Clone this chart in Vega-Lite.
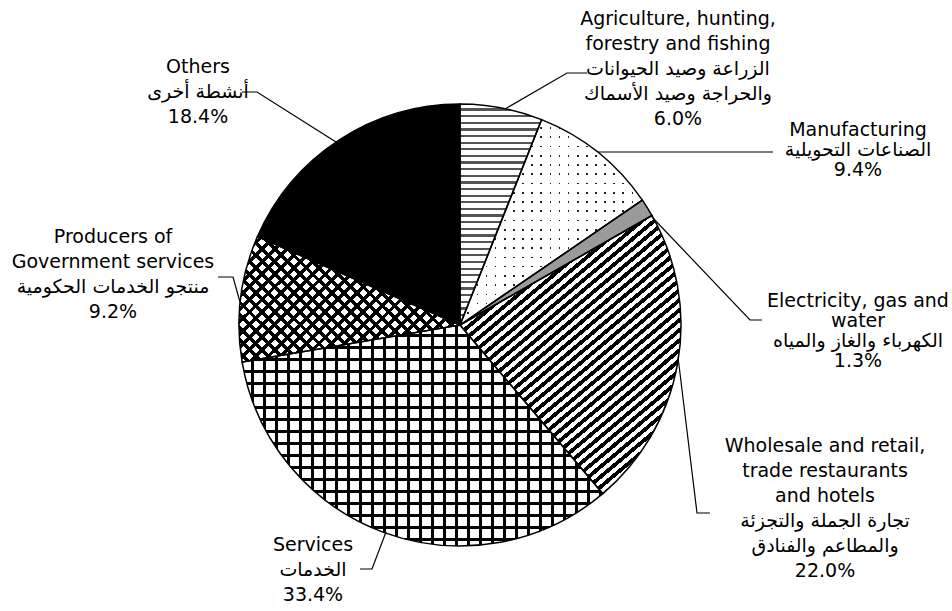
{
"$schema":"https://vega.github.io/schema/vega-lite/v6.json",
"width":920,"height":572,
"autosize":{"type":"none"},
"padding":{"left":0,"top":39,"right":32,"bottom":0},
"background":"#ffffff",
"config":{"view":{"stroke":null}},
"layer":[
{
"data":{"values":[
{"sector":"Agriculture","value":6.0},
{"sector":"Manufacturing","value":9.4},
{"sector":"Electricity","value":1.3},
{"sector":"Wholesale","value":22.0},
{"sector":"Services","value":33.4},
{"sector":"Producers","value":9.2},
{"sector":"Others","value":18.4}
]},
"transform":[
{"window":[{"op":"sum","field":"value","as":"end"}],"frame":[null,0]},
{"calculate":"datum.end - datum.value","as":"start"}
],
"encoding":{
"theta":{"field":"start","type":"quantitative","scale":{"domain":[0,99.7]}},
"theta2":{"field":"end"}
},
"layer":[
{"transform":[{"filter":"datum.sector === 'Agriculture'"}],
"mark":{"type":"arc","outerRadius":221,"fill":{"gradient":"linear","x1":0,"y1":0,"x2":0,"y2":1,"stops":[
{"offset":0,"color":"#fff"},{"offset":0.02,"color":"#fff"},{"offset":0.02,"color":"#555"},{"offset":0.03,"color":"#555"},
{"offset":0.03,"color":"#fff"},{"offset":0.05,"color":"#fff"},{"offset":0.05,"color":"#555"},{"offset":0.06,"color":"#555"},
{"offset":0.06,"color":"#fff"},{"offset":0.08,"color":"#fff"},{"offset":0.08,"color":"#555"},{"offset":0.09,"color":"#555"},
{"offset":0.09,"color":"#fff"},{"offset":0.11,"color":"#fff"},{"offset":0.11,"color":"#555"},{"offset":0.12,"color":"#555"},
{"offset":0.12,"color":"#fff"},{"offset":0.14,"color":"#fff"},{"offset":0.14,"color":"#555"},{"offset":0.15,"color":"#555"},
{"offset":0.15,"color":"#fff"},{"offset":0.17,"color":"#fff"},{"offset":0.17,"color":"#555"},{"offset":0.18,"color":"#555"},
{"offset":0.18,"color":"#fff"},{"offset":0.2,"color":"#fff"},{"offset":0.2,"color":"#555"},{"offset":0.21,"color":"#555"},
{"offset":0.21,"color":"#fff"},{"offset":0.23,"color":"#fff"},{"offset":0.23,"color":"#555"},{"offset":0.24,"color":"#555"},
{"offset":0.24,"color":"#fff"},{"offset":0.26,"color":"#fff"},{"offset":0.26,"color":"#555"},{"offset":0.27,"color":"#555"},
{"offset":0.27,"color":"#fff"},{"offset":0.29,"color":"#fff"},{"offset":0.29,"color":"#555"},{"offset":0.3,"color":"#555"},
{"offset":0.3,"color":"#fff"},{"offset":0.32,"color":"#fff"},{"offset":0.32,"color":"#555"},{"offset":0.33,"color":"#555"},
{"offset":0.33,"color":"#fff"},{"offset":0.35,"color":"#fff"},{"offset":0.35,"color":"#555"},{"offset":0.36,"color":"#555"},
{"offset":0.36,"color":"#fff"},{"offset":0.38,"color":"#fff"},{"offset":0.38,"color":"#555"},{"offset":0.39,"color":"#555"},
{"offset":0.39,"color":"#fff"},{"offset":0.41,"color":"#fff"},{"offset":0.41,"color":"#555"},{"offset":0.42,"color":"#555"},
{"offset":0.42,"color":"#fff"},{"offset":0.44,"color":"#fff"},{"offset":0.44,"color":"#555"},{"offset":0.45,"color":"#555"},
{"offset":0.45,"color":"#fff"},{"offset":0.47,"color":"#fff"},{"offset":0.47,"color":"#555"},{"offset":0.48,"color":"#555"},
{"offset":0.48,"color":"#fff"},{"offset":0.5,"color":"#fff"},{"offset":0.5,"color":"#555"},{"offset":0.51,"color":"#555"},
{"offset":0.51,"color":"#fff"},{"offset":0.53,"color":"#fff"},{"offset":0.53,"color":"#555"},{"offset":0.54,"color":"#555"},
{"offset":0.54,"color":"#fff"},{"offset":0.56,"color":"#fff"},{"offset":0.56,"color":"#555"},{"offset":0.57,"color":"#555"},
{"offset":0.57,"color":"#fff"},{"offset":0.59,"color":"#fff"},{"offset":0.59,"color":"#555"},{"offset":0.6,"color":"#555"},
{"offset":0.6,"color":"#fff"},{"offset":0.62,"color":"#fff"},{"offset":0.62,"color":"#555"},{"offset":0.63,"color":"#555"},
{"offset":0.63,"color":"#fff"},{"offset":0.65,"color":"#fff"},{"offset":0.65,"color":"#555"},{"offset":0.66,"color":"#555"},
{"offset":0.66,"color":"#fff"},{"offset":0.68,"color":"#fff"},{"offset":0.68,"color":"#555"},{"offset":0.69,"color":"#555"},
{"offset":0.69,"color":"#fff"},{"offset":0.71,"color":"#fff"},{"offset":0.71,"color":"#555"},{"offset":0.72,"color":"#555"},
{"offset":0.72,"color":"#fff"},{"offset":0.74,"color":"#fff"},{"offset":0.74,"color":"#555"},{"offset":0.75,"color":"#555"},
{"offset":0.75,"color":"#fff"},{"offset":0.77,"color":"#fff"},{"offset":0.77,"color":"#555"},{"offset":0.78,"color":"#555"},
{"offset":0.78,"color":"#fff"},{"offset":0.8,"color":"#fff"},{"offset":0.8,"color":"#555"},{"offset":0.81,"color":"#555"},
{"offset":0.81,"color":"#fff"},{"offset":0.83,"color":"#fff"},{"offset":0.83,"color":"#555"},{"offset":0.84,"color":"#555"},
{"offset":0.84,"color":"#fff"},{"offset":0.86,"color":"#fff"},{"offset":0.86,"color":"#555"},{"offset":0.87,"color":"#555"},
{"offset":0.87,"color":"#fff"},{"offset":0.89,"color":"#fff"},{"offset":0.89,"color":"#555"},{"offset":0.9,"color":"#555"},
{"offset":0.9,"color":"#fff"},{"offset":0.92,"color":"#fff"},{"offset":0.92,"color":"#555"},{"offset":0.93,"color":"#555"},
{"offset":0.93,"color":"#fff"},{"offset":0.95,"color":"#fff"},{"offset":0.95,"color":"#555"},{"offset":0.96,"color":"#555"},
{"offset":0.96,"color":"#fff"},{"offset":0.98,"color":"#fff"},{"offset":0.98,"color":"#555"},{"offset":0.99,"color":"#555"},
{"offset":0.99,"color":"#fff"}
]}}},
{"transform":[{"filter":"datum.sector === 'Manufacturing'"}],
"mark":{"type":"arc","outerRadius":221,"fill":{"gradient":"linear","x1":0,"y1":0,"x2":1,"y2":0,"stops":[
{"offset":0,"color":"#fff"},{"offset":0.041,"color":"#fff"},{"offset":0.041,"color":"#222"},{"offset":0.05,"color":"#222"},
{"offset":0.05,"color":"#fff"},{"offset":0.091,"color":"#fff"},{"offset":0.091,"color":"#222"},{"offset":0.1,"color":"#222"},
{"offset":0.1,"color":"#fff"},{"offset":0.141,"color":"#fff"},{"offset":0.141,"color":"#222"},{"offset":0.15,"color":"#222"},
{"offset":0.15,"color":"#fff"},{"offset":0.191,"color":"#fff"},{"offset":0.191,"color":"#222"},{"offset":0.2,"color":"#222"},
{"offset":0.2,"color":"#fff"},{"offset":0.241,"color":"#fff"},{"offset":0.241,"color":"#222"},{"offset":0.25,"color":"#222"},
{"offset":0.25,"color":"#fff"},{"offset":0.291,"color":"#fff"},{"offset":0.291,"color":"#222"},{"offset":0.3,"color":"#222"},
{"offset":0.3,"color":"#fff"},{"offset":0.341,"color":"#fff"},{"offset":0.341,"color":"#222"},{"offset":0.35,"color":"#222"},
{"offset":0.35,"color":"#fff"},{"offset":0.391,"color":"#fff"},{"offset":0.391,"color":"#222"},{"offset":0.4,"color":"#222"},
{"offset":0.4,"color":"#fff"},{"offset":0.441,"color":"#fff"},{"offset":0.441,"color":"#222"},{"offset":0.45,"color":"#222"},
{"offset":0.45,"color":"#fff"},{"offset":0.491,"color":"#fff"},{"offset":0.491,"color":"#222"},{"offset":0.5,"color":"#222"},
{"offset":0.5,"color":"#fff"},{"offset":0.541,"color":"#fff"},{"offset":0.541,"color":"#222"},{"offset":0.55,"color":"#222"},
{"offset":0.55,"color":"#fff"},{"offset":0.591,"color":"#fff"},{"offset":0.591,"color":"#222"},{"offset":0.6,"color":"#222"},
{"offset":0.6,"color":"#fff"},{"offset":0.641,"color":"#fff"},{"offset":0.641,"color":"#222"},{"offset":0.65,"color":"#222"},
{"offset":0.65,"color":"#fff"},{"offset":0.691,"color":"#fff"},{"offset":0.691,"color":"#222"},{"offset":0.7,"color":"#222"},
{"offset":0.7,"color":"#fff"},{"offset":0.741,"color":"#fff"},{"offset":0.741,"color":"#222"},{"offset":0.75,"color":"#222"},
{"offset":0.75,"color":"#fff"},{"offset":0.791,"color":"#fff"},{"offset":0.791,"color":"#222"},{"offset":0.8,"color":"#222"},
{"offset":0.8,"color":"#fff"},{"offset":0.841,"color":"#fff"},{"offset":0.841,"color":"#222"},{"offset":0.85,"color":"#222"},
{"offset":0.85,"color":"#fff"},{"offset":0.891,"color":"#fff"},{"offset":0.891,"color":"#222"},{"offset":0.9,"color":"#222"},
{"offset":0.9,"color":"#fff"},{"offset":0.941,"color":"#fff"},{"offset":0.941,"color":"#222"},{"offset":0.95,"color":"#222"},
{"offset":0.95,"color":"#fff"},{"offset":0.991,"color":"#fff"},{"offset":0.991,"color":"#222"},{"offset":1,"color":"#222"}
]}}},
{"transform":[{"filter":"datum.sector === 'Manufacturing'"}],
"mark":{"type":"arc","outerRadius":221,"fill":{"gradient":"linear","x1":0,"y1":0,"x2":0,"y2":1,"stops":[
{"offset":0,"color":"#fff"},{"offset":0.037,"color":"#fff"},{"offset":0.037,"color":"rgba(255,255,255,0)"},{"offset":0.045,"color":"rgba(255,255,255,0)"},
{"offset":0.045,"color":"#fff"},{"offset":0.082,"color":"#fff"},{"offset":0.082,"color":"rgba(255,255,255,0)"},{"offset":0.09,"color":"rgba(255,255,255,0)"},
{"offset":0.09,"color":"#fff"},{"offset":0.127,"color":"#fff"},{"offset":0.127,"color":"rgba(255,255,255,0)"},{"offset":0.135,"color":"rgba(255,255,255,0)"},
{"offset":0.135,"color":"#fff"},{"offset":0.172,"color":"#fff"},{"offset":0.172,"color":"rgba(255,255,255,0)"},{"offset":0.18,"color":"rgba(255,255,255,0)"},
{"offset":0.18,"color":"#fff"},{"offset":0.217,"color":"#fff"},{"offset":0.217,"color":"rgba(255,255,255,0)"},{"offset":0.225,"color":"rgba(255,255,255,0)"},
{"offset":0.225,"color":"#fff"},{"offset":0.262,"color":"#fff"},{"offset":0.262,"color":"rgba(255,255,255,0)"},{"offset":0.27,"color":"rgba(255,255,255,0)"},
{"offset":0.27,"color":"#fff"},{"offset":0.307,"color":"#fff"},{"offset":0.307,"color":"rgba(255,255,255,0)"},{"offset":0.315,"color":"rgba(255,255,255,0)"},
{"offset":0.315,"color":"#fff"},{"offset":0.352,"color":"#fff"},{"offset":0.352,"color":"rgba(255,255,255,0)"},{"offset":0.36,"color":"rgba(255,255,255,0)"},
{"offset":0.36,"color":"#fff"},{"offset":0.397,"color":"#fff"},{"offset":0.397,"color":"rgba(255,255,255,0)"},{"offset":0.405,"color":"rgba(255,255,255,0)"},
{"offset":0.405,"color":"#fff"},{"offset":0.442,"color":"#fff"},{"offset":0.442,"color":"rgba(255,255,255,0)"},{"offset":0.45,"color":"rgba(255,255,255,0)"},
{"offset":0.45,"color":"#fff"},{"offset":0.487,"color":"#fff"},{"offset":0.487,"color":"rgba(255,255,255,0)"},{"offset":0.495,"color":"rgba(255,255,255,0)"},
{"offset":0.495,"color":"#fff"},{"offset":0.532,"color":"#fff"},{"offset":0.532,"color":"rgba(255,255,255,0)"},{"offset":0.54,"color":"rgba(255,255,255,0)"},
{"offset":0.54,"color":"#fff"},{"offset":0.577,"color":"#fff"},{"offset":0.577,"color":"rgba(255,255,255,0)"},{"offset":0.585,"color":"rgba(255,255,255,0)"},
{"offset":0.585,"color":"#fff"},{"offset":0.622,"color":"#fff"},{"offset":0.622,"color":"rgba(255,255,255,0)"},{"offset":0.63,"color":"rgba(255,255,255,0)"},
{"offset":0.63,"color":"#fff"},{"offset":0.667,"color":"#fff"},{"offset":0.667,"color":"rgba(255,255,255,0)"},{"offset":0.675,"color":"rgba(255,255,255,0)"},
{"offset":0.675,"color":"#fff"},{"offset":0.712,"color":"#fff"},{"offset":0.712,"color":"rgba(255,255,255,0)"},{"offset":0.72,"color":"rgba(255,255,255,0)"},
{"offset":0.72,"color":"#fff"},{"offset":0.757,"color":"#fff"},{"offset":0.757,"color":"rgba(255,255,255,0)"},{"offset":0.765,"color":"rgba(255,255,255,0)"},
{"offset":0.765,"color":"#fff"},{"offset":0.802,"color":"#fff"},{"offset":0.802,"color":"rgba(255,255,255,0)"},{"offset":0.81,"color":"rgba(255,255,255,0)"},
{"offset":0.81,"color":"#fff"},{"offset":0.847,"color":"#fff"},{"offset":0.847,"color":"rgba(255,255,255,0)"},{"offset":0.855,"color":"rgba(255,255,255,0)"},
{"offset":0.855,"color":"#fff"},{"offset":0.892,"color":"#fff"},{"offset":0.892,"color":"rgba(255,255,255,0)"},{"offset":0.9,"color":"rgba(255,255,255,0)"},
{"offset":0.9,"color":"#fff"},{"offset":0.937,"color":"#fff"},{"offset":0.937,"color":"rgba(255,255,255,0)"},{"offset":0.945,"color":"rgba(255,255,255,0)"},
{"offset":0.945,"color":"#fff"},{"offset":0.982,"color":"#fff"},{"offset":0.982,"color":"rgba(255,255,255,0)"},{"offset":0.99,"color":"rgba(255,255,255,0)"},
{"offset":0.99,"color":"#fff"}
]}}},
{"transform":[{"filter":"datum.sector === 'Electricity'"}],
"mark":{"type":"arc","outerRadius":221,"fill":"#9a9a9a"}},
{"transform":[{"filter":"datum.sector === 'Wholesale'"}],
"mark":{"type":"arc","outerRadius":221,"fill":{"gradient":"linear","x1":0,"y1":0,"x2":0.667,"y2":1,"stops":[
{"offset":0,"color":"#fff"},{"offset":0.0125,"color":"#fff"},{"offset":0.0125,"color":"#000"},{"offset":0.025,"color":"#000"},
{"offset":0.025,"color":"#fff"},{"offset":0.0375,"color":"#fff"},{"offset":0.0375,"color":"#000"},{"offset":0.05,"color":"#000"},
{"offset":0.05,"color":"#fff"},{"offset":0.0625,"color":"#fff"},{"offset":0.0625,"color":"#000"},{"offset":0.075,"color":"#000"},
{"offset":0.075,"color":"#fff"},{"offset":0.0875,"color":"#fff"},{"offset":0.0875,"color":"#000"},{"offset":0.1,"color":"#000"},
{"offset":0.1,"color":"#fff"},{"offset":0.1125,"color":"#fff"},{"offset":0.1125,"color":"#000"},{"offset":0.125,"color":"#000"},
{"offset":0.125,"color":"#fff"},{"offset":0.1375,"color":"#fff"},{"offset":0.1375,"color":"#000"},{"offset":0.15,"color":"#000"},
{"offset":0.15,"color":"#fff"},{"offset":0.1625,"color":"#fff"},{"offset":0.1625,"color":"#000"},{"offset":0.175,"color":"#000"},
{"offset":0.175,"color":"#fff"},{"offset":0.1875,"color":"#fff"},{"offset":0.1875,"color":"#000"},{"offset":0.2,"color":"#000"},
{"offset":0.2,"color":"#fff"},{"offset":0.2125,"color":"#fff"},{"offset":0.2125,"color":"#000"},{"offset":0.225,"color":"#000"},
{"offset":0.225,"color":"#fff"},{"offset":0.2375,"color":"#fff"},{"offset":0.2375,"color":"#000"},{"offset":0.25,"color":"#000"},
{"offset":0.25,"color":"#fff"},{"offset":0.2625,"color":"#fff"},{"offset":0.2625,"color":"#000"},{"offset":0.275,"color":"#000"},
{"offset":0.275,"color":"#fff"},{"offset":0.2875,"color":"#fff"},{"offset":0.2875,"color":"#000"},{"offset":0.3,"color":"#000"},
{"offset":0.3,"color":"#fff"},{"offset":0.3125,"color":"#fff"},{"offset":0.3125,"color":"#000"},{"offset":0.325,"color":"#000"},
{"offset":0.325,"color":"#fff"},{"offset":0.3375,"color":"#fff"},{"offset":0.3375,"color":"#000"},{"offset":0.35,"color":"#000"},
{"offset":0.35,"color":"#fff"},{"offset":0.3625,"color":"#fff"},{"offset":0.3625,"color":"#000"},{"offset":0.375,"color":"#000"},
{"offset":0.375,"color":"#fff"},{"offset":0.3875,"color":"#fff"},{"offset":0.3875,"color":"#000"},{"offset":0.4,"color":"#000"},
{"offset":0.4,"color":"#fff"},{"offset":0.4125,"color":"#fff"},{"offset":0.4125,"color":"#000"},{"offset":0.425,"color":"#000"},
{"offset":0.425,"color":"#fff"},{"offset":0.4375,"color":"#fff"},{"offset":0.4375,"color":"#000"},{"offset":0.45,"color":"#000"},
{"offset":0.45,"color":"#fff"},{"offset":0.4625,"color":"#fff"},{"offset":0.4625,"color":"#000"},{"offset":0.475,"color":"#000"},
{"offset":0.475,"color":"#fff"},{"offset":0.4875,"color":"#fff"},{"offset":0.4875,"color":"#000"},{"offset":0.5,"color":"#000"},
{"offset":0.5,"color":"#fff"},{"offset":0.5125,"color":"#fff"},{"offset":0.5125,"color":"#000"},{"offset":0.525,"color":"#000"},
{"offset":0.525,"color":"#fff"},{"offset":0.5375,"color":"#fff"},{"offset":0.5375,"color":"#000"},{"offset":0.55,"color":"#000"},
{"offset":0.55,"color":"#fff"},{"offset":0.5625,"color":"#fff"},{"offset":0.5625,"color":"#000"},{"offset":0.575,"color":"#000"},
{"offset":0.575,"color":"#fff"},{"offset":0.5875,"color":"#fff"},{"offset":0.5875,"color":"#000"},{"offset":0.6,"color":"#000"},
{"offset":0.6,"color":"#fff"},{"offset":0.6125,"color":"#fff"},{"offset":0.6125,"color":"#000"},{"offset":0.625,"color":"#000"},
{"offset":0.625,"color":"#fff"},{"offset":0.6375,"color":"#fff"},{"offset":0.6375,"color":"#000"},{"offset":0.65,"color":"#000"},
{"offset":0.65,"color":"#fff"},{"offset":0.6625,"color":"#fff"},{"offset":0.6625,"color":"#000"},{"offset":0.675,"color":"#000"},
{"offset":0.675,"color":"#fff"},{"offset":0.6875,"color":"#fff"},{"offset":0.6875,"color":"#000"},{"offset":0.7,"color":"#000"},
{"offset":0.7,"color":"#fff"},{"offset":0.7125,"color":"#fff"},{"offset":0.7125,"color":"#000"},{"offset":0.725,"color":"#000"},
{"offset":0.725,"color":"#fff"},{"offset":0.7375,"color":"#fff"},{"offset":0.7375,"color":"#000"},{"offset":0.75,"color":"#000"},
{"offset":0.75,"color":"#fff"},{"offset":0.7625,"color":"#fff"},{"offset":0.7625,"color":"#000"},{"offset":0.775,"color":"#000"},
{"offset":0.775,"color":"#fff"},{"offset":0.7875,"color":"#fff"},{"offset":0.7875,"color":"#000"},{"offset":0.8,"color":"#000"},
{"offset":0.8,"color":"#fff"},{"offset":0.8125,"color":"#fff"},{"offset":0.8125,"color":"#000"},{"offset":0.825,"color":"#000"},
{"offset":0.825,"color":"#fff"},{"offset":0.8375,"color":"#fff"},{"offset":0.8375,"color":"#000"},{"offset":0.85,"color":"#000"},
{"offset":0.85,"color":"#fff"},{"offset":0.8625,"color":"#fff"},{"offset":0.8625,"color":"#000"},{"offset":0.875,"color":"#000"},
{"offset":0.875,"color":"#fff"},{"offset":0.8875,"color":"#fff"},{"offset":0.8875,"color":"#000"},{"offset":0.9,"color":"#000"},
{"offset":0.9,"color":"#fff"},{"offset":0.9125,"color":"#fff"},{"offset":0.9125,"color":"#000"},{"offset":0.925,"color":"#000"},
{"offset":0.925,"color":"#fff"},{"offset":0.9375,"color":"#fff"},{"offset":0.9375,"color":"#000"},{"offset":0.95,"color":"#000"},
{"offset":0.95,"color":"#fff"},{"offset":0.9625,"color":"#fff"},{"offset":0.9625,"color":"#000"},{"offset":0.975,"color":"#000"},
{"offset":0.975,"color":"#fff"},{"offset":0.9875,"color":"#fff"},{"offset":0.9875,"color":"#000"},{"offset":1,"color":"#000"}
]}}},
{"transform":[{"filter":"datum.sector === 'Services'"}],
"mark":{"type":"arc","outerRadius":221,"fill":{"gradient":"linear","x1":0,"y1":0,"x2":1.108,"y2":0,"stops":[
{"offset":0,"color":"#fff"},{"offset":0.0225,"color":"#fff"},{"offset":0.0225,"color":"#000"},{"offset":0.03,"color":"#000"},
{"offset":0.03,"color":"#fff"},{"offset":0.0525,"color":"#fff"},{"offset":0.0525,"color":"#000"},{"offset":0.06,"color":"#000"},
{"offset":0.06,"color":"#fff"},{"offset":0.0825,"color":"#fff"},{"offset":0.0825,"color":"#000"},{"offset":0.09,"color":"#000"},
{"offset":0.09,"color":"#fff"},{"offset":0.1125,"color":"#fff"},{"offset":0.1125,"color":"#000"},{"offset":0.12,"color":"#000"},
{"offset":0.12,"color":"#fff"},{"offset":0.1425,"color":"#fff"},{"offset":0.1425,"color":"#000"},{"offset":0.15,"color":"#000"},
{"offset":0.15,"color":"#fff"},{"offset":0.1725,"color":"#fff"},{"offset":0.1725,"color":"#000"},{"offset":0.18,"color":"#000"},
{"offset":0.18,"color":"#fff"},{"offset":0.2025,"color":"#fff"},{"offset":0.2025,"color":"#000"},{"offset":0.21,"color":"#000"},
{"offset":0.21,"color":"#fff"},{"offset":0.2325,"color":"#fff"},{"offset":0.2325,"color":"#000"},{"offset":0.24,"color":"#000"},
{"offset":0.24,"color":"#fff"},{"offset":0.2625,"color":"#fff"},{"offset":0.2625,"color":"#000"},{"offset":0.27,"color":"#000"},
{"offset":0.27,"color":"#fff"},{"offset":0.2925,"color":"#fff"},{"offset":0.2925,"color":"#000"},{"offset":0.3,"color":"#000"},
{"offset":0.3,"color":"#fff"},{"offset":0.3225,"color":"#fff"},{"offset":0.3225,"color":"#000"},{"offset":0.33,"color":"#000"},
{"offset":0.33,"color":"#fff"},{"offset":0.3525,"color":"#fff"},{"offset":0.3525,"color":"#000"},{"offset":0.36,"color":"#000"},
{"offset":0.36,"color":"#fff"},{"offset":0.3825,"color":"#fff"},{"offset":0.3825,"color":"#000"},{"offset":0.39,"color":"#000"},
{"offset":0.39,"color":"#fff"},{"offset":0.4125,"color":"#fff"},{"offset":0.4125,"color":"#000"},{"offset":0.42,"color":"#000"},
{"offset":0.42,"color":"#fff"},{"offset":0.4425,"color":"#fff"},{"offset":0.4425,"color":"#000"},{"offset":0.45,"color":"#000"},
{"offset":0.45,"color":"#fff"},{"offset":0.4725,"color":"#fff"},{"offset":0.4725,"color":"#000"},{"offset":0.48,"color":"#000"},
{"offset":0.48,"color":"#fff"},{"offset":0.5025,"color":"#fff"},{"offset":0.5025,"color":"#000"},{"offset":0.51,"color":"#000"},
{"offset":0.51,"color":"#fff"},{"offset":0.5325,"color":"#fff"},{"offset":0.5325,"color":"#000"},{"offset":0.54,"color":"#000"},
{"offset":0.54,"color":"#fff"},{"offset":0.5625,"color":"#fff"},{"offset":0.5625,"color":"#000"},{"offset":0.57,"color":"#000"},
{"offset":0.57,"color":"#fff"},{"offset":0.5925,"color":"#fff"},{"offset":0.5925,"color":"#000"},{"offset":0.6,"color":"#000"},
{"offset":0.6,"color":"#fff"},{"offset":0.6225,"color":"#fff"},{"offset":0.6225,"color":"#000"},{"offset":0.63,"color":"#000"},
{"offset":0.63,"color":"#fff"},{"offset":0.6525,"color":"#fff"},{"offset":0.6525,"color":"#000"},{"offset":0.66,"color":"#000"},
{"offset":0.66,"color":"#fff"},{"offset":0.6825,"color":"#fff"},{"offset":0.6825,"color":"#000"},{"offset":0.69,"color":"#000"},
{"offset":0.69,"color":"#fff"},{"offset":0.7125,"color":"#fff"},{"offset":0.7125,"color":"#000"},{"offset":0.72,"color":"#000"},
{"offset":0.72,"color":"#fff"},{"offset":0.7425,"color":"#fff"},{"offset":0.7425,"color":"#000"},{"offset":0.75,"color":"#000"},
{"offset":0.75,"color":"#fff"},{"offset":0.7725,"color":"#fff"},{"offset":0.7725,"color":"#000"},{"offset":0.78,"color":"#000"},
{"offset":0.78,"color":"#fff"},{"offset":0.8025,"color":"#fff"},{"offset":0.8025,"color":"#000"},{"offset":0.81,"color":"#000"},
{"offset":0.81,"color":"#fff"},{"offset":0.8325,"color":"#fff"},{"offset":0.8325,"color":"#000"},{"offset":0.84,"color":"#000"},
{"offset":0.84,"color":"#fff"},{"offset":0.8625,"color":"#fff"},{"offset":0.8625,"color":"#000"},{"offset":0.87,"color":"#000"},
{"offset":0.87,"color":"#fff"},{"offset":0.8925,"color":"#fff"},{"offset":0.8925,"color":"#000"},{"offset":0.9,"color":"#000"},
{"offset":0.9,"color":"#fff"},{"offset":0.9225,"color":"#fff"},{"offset":0.9225,"color":"#000"},{"offset":0.93,"color":"#000"},
{"offset":0.93,"color":"#fff"}
]}}},
{"transform":[{"filter":"datum.sector === 'Services'"}],
"mark":{"type":"arc","outerRadius":221,"fill":{"gradient":"linear","x1":0,"y1":0,"x2":0,"y2":1.0857,"stops":[
{"offset":0,"color":"rgba(0,0,0,0)"},{"offset":0.0375,"color":"rgba(0,0,0,0)"},{"offset":0.0375,"color":"#000"},{"offset":0.05,"color":"#000"},
{"offset":0.05,"color":"rgba(0,0,0,0)"},{"offset":0.0875,"color":"rgba(0,0,0,0)"},{"offset":0.0875,"color":"#000"},{"offset":0.1,"color":"#000"},
{"offset":0.1,"color":"rgba(0,0,0,0)"},{"offset":0.1375,"color":"rgba(0,0,0,0)"},{"offset":0.1375,"color":"#000"},{"offset":0.15,"color":"#000"},
{"offset":0.15,"color":"rgba(0,0,0,0)"},{"offset":0.1875,"color":"rgba(0,0,0,0)"},{"offset":0.1875,"color":"#000"},{"offset":0.2,"color":"#000"},
{"offset":0.2,"color":"rgba(0,0,0,0)"},{"offset":0.2375,"color":"rgba(0,0,0,0)"},{"offset":0.2375,"color":"#000"},{"offset":0.25,"color":"#000"},
{"offset":0.25,"color":"rgba(0,0,0,0)"},{"offset":0.2875,"color":"rgba(0,0,0,0)"},{"offset":0.2875,"color":"#000"},{"offset":0.3,"color":"#000"},
{"offset":0.3,"color":"rgba(0,0,0,0)"},{"offset":0.3375,"color":"rgba(0,0,0,0)"},{"offset":0.3375,"color":"#000"},{"offset":0.35,"color":"#000"},
{"offset":0.35,"color":"rgba(0,0,0,0)"},{"offset":0.3875,"color":"rgba(0,0,0,0)"},{"offset":0.3875,"color":"#000"},{"offset":0.4,"color":"#000"},
{"offset":0.4,"color":"rgba(0,0,0,0)"},{"offset":0.4375,"color":"rgba(0,0,0,0)"},{"offset":0.4375,"color":"#000"},{"offset":0.45,"color":"#000"},
{"offset":0.45,"color":"rgba(0,0,0,0)"},{"offset":0.4875,"color":"rgba(0,0,0,0)"},{"offset":0.4875,"color":"#000"},{"offset":0.5,"color":"#000"},
{"offset":0.5,"color":"rgba(0,0,0,0)"},{"offset":0.5375,"color":"rgba(0,0,0,0)"},{"offset":0.5375,"color":"#000"},{"offset":0.55,"color":"#000"},
{"offset":0.55,"color":"rgba(0,0,0,0)"},{"offset":0.5875,"color":"rgba(0,0,0,0)"},{"offset":0.5875,"color":"#000"},{"offset":0.6,"color":"#000"},
{"offset":0.6,"color":"rgba(0,0,0,0)"},{"offset":0.6375,"color":"rgba(0,0,0,0)"},{"offset":0.6375,"color":"#000"},{"offset":0.65,"color":"#000"},
{"offset":0.65,"color":"rgba(0,0,0,0)"},{"offset":0.6875,"color":"rgba(0,0,0,0)"},{"offset":0.6875,"color":"#000"},{"offset":0.7,"color":"#000"},
{"offset":0.7,"color":"rgba(0,0,0,0)"},{"offset":0.7375,"color":"rgba(0,0,0,0)"},{"offset":0.7375,"color":"#000"},{"offset":0.75,"color":"#000"},
{"offset":0.75,"color":"rgba(0,0,0,0)"},{"offset":0.7875,"color":"rgba(0,0,0,0)"},{"offset":0.7875,"color":"#000"},{"offset":0.8,"color":"#000"},
{"offset":0.8,"color":"rgba(0,0,0,0)"},{"offset":0.8375,"color":"rgba(0,0,0,0)"},{"offset":0.8375,"color":"#000"},{"offset":0.85,"color":"#000"},
{"offset":0.85,"color":"rgba(0,0,0,0)"},{"offset":0.8875,"color":"rgba(0,0,0,0)"},{"offset":0.8875,"color":"#000"},{"offset":0.9,"color":"#000"},
{"offset":0.9,"color":"rgba(0,0,0,0)"},{"offset":0.9375,"color":"rgba(0,0,0,0)"},{"offset":0.9375,"color":"#000"},{"offset":0.95,"color":"#000"},
{"offset":0.95,"color":"rgba(0,0,0,0)"}
]}}},
{"transform":[{"filter":"datum.sector === 'Producers'"}],
"mark":{"type":"arc","outerRadius":221,"fill":"#fff"}},
{"transform":[{"filter":"datum.sector === 'Producers'"}],
"mark":{"type":"arc","outerRadius":221,"fill":{"gradient":"linear","x1":0,"y1":0,"x2":1.2,"y2":0.683,"stops":[
{"offset":0,"color":"rgba(0,0,0,0)"},{"offset":0.022,"color":"rgba(0,0,0,0)"},{"offset":0.022,"color":"#000"},{"offset":0.036,"color":"#000"},
{"offset":0.036,"color":"rgba(0,0,0,0)"},{"offset":0.058,"color":"rgba(0,0,0,0)"},{"offset":0.058,"color":"#000"},{"offset":0.072,"color":"#000"},
{"offset":0.072,"color":"rgba(0,0,0,0)"},{"offset":0.094,"color":"rgba(0,0,0,0)"},{"offset":0.094,"color":"#000"},{"offset":0.108,"color":"#000"},
{"offset":0.108,"color":"rgba(0,0,0,0)"},{"offset":0.13,"color":"rgba(0,0,0,0)"},{"offset":0.13,"color":"#000"},{"offset":0.144,"color":"#000"},
{"offset":0.144,"color":"rgba(0,0,0,0)"},{"offset":0.166,"color":"rgba(0,0,0,0)"},{"offset":0.166,"color":"#000"},{"offset":0.18,"color":"#000"},
{"offset":0.18,"color":"rgba(0,0,0,0)"},{"offset":0.202,"color":"rgba(0,0,0,0)"},{"offset":0.202,"color":"#000"},{"offset":0.216,"color":"#000"},
{"offset":0.216,"color":"rgba(0,0,0,0)"},{"offset":0.238,"color":"rgba(0,0,0,0)"},{"offset":0.238,"color":"#000"},{"offset":0.252,"color":"#000"},
{"offset":0.252,"color":"rgba(0,0,0,0)"},{"offset":0.274,"color":"rgba(0,0,0,0)"},{"offset":0.274,"color":"#000"},{"offset":0.288,"color":"#000"},
{"offset":0.288,"color":"rgba(0,0,0,0)"},{"offset":0.31,"color":"rgba(0,0,0,0)"},{"offset":0.31,"color":"#000"},{"offset":0.324,"color":"#000"},
{"offset":0.324,"color":"rgba(0,0,0,0)"},{"offset":0.346,"color":"rgba(0,0,0,0)"},{"offset":0.346,"color":"#000"},{"offset":0.36,"color":"#000"},
{"offset":0.36,"color":"rgba(0,0,0,0)"},{"offset":0.382,"color":"rgba(0,0,0,0)"},{"offset":0.382,"color":"#000"},{"offset":0.396,"color":"#000"},
{"offset":0.396,"color":"rgba(0,0,0,0)"},{"offset":0.418,"color":"rgba(0,0,0,0)"},{"offset":0.418,"color":"#000"},{"offset":0.432,"color":"#000"},
{"offset":0.432,"color":"rgba(0,0,0,0)"},{"offset":0.454,"color":"rgba(0,0,0,0)"},{"offset":0.454,"color":"#000"},{"offset":0.468,"color":"#000"},
{"offset":0.468,"color":"rgba(0,0,0,0)"},{"offset":0.49,"color":"rgba(0,0,0,0)"},{"offset":0.49,"color":"#000"},{"offset":0.504,"color":"#000"},
{"offset":0.504,"color":"rgba(0,0,0,0)"},{"offset":0.526,"color":"rgba(0,0,0,0)"},{"offset":0.526,"color":"#000"},{"offset":0.54,"color":"#000"},
{"offset":0.54,"color":"rgba(0,0,0,0)"},{"offset":0.562,"color":"rgba(0,0,0,0)"},{"offset":0.562,"color":"#000"},{"offset":0.576,"color":"#000"},
{"offset":0.576,"color":"rgba(0,0,0,0)"},{"offset":0.598,"color":"rgba(0,0,0,0)"},{"offset":0.598,"color":"#000"},{"offset":0.612,"color":"#000"},
{"offset":0.612,"color":"rgba(0,0,0,0)"},{"offset":0.634,"color":"rgba(0,0,0,0)"},{"offset":0.634,"color":"#000"},{"offset":0.648,"color":"#000"},
{"offset":0.648,"color":"rgba(0,0,0,0)"},{"offset":0.67,"color":"rgba(0,0,0,0)"},{"offset":0.67,"color":"#000"},{"offset":0.684,"color":"#000"},
{"offset":0.684,"color":"rgba(0,0,0,0)"},{"offset":0.706,"color":"rgba(0,0,0,0)"},{"offset":0.706,"color":"#000"},{"offset":0.72,"color":"#000"},
{"offset":0.72,"color":"rgba(0,0,0,0)"},{"offset":0.742,"color":"rgba(0,0,0,0)"},{"offset":0.742,"color":"#000"},{"offset":0.756,"color":"#000"},
{"offset":0.756,"color":"rgba(0,0,0,0)"},{"offset":0.778,"color":"rgba(0,0,0,0)"},{"offset":0.778,"color":"#000"},{"offset":0.792,"color":"#000"},
{"offset":0.792,"color":"rgba(0,0,0,0)"},{"offset":0.814,"color":"rgba(0,0,0,0)"},{"offset":0.814,"color":"#000"},{"offset":0.828,"color":"#000"},
{"offset":0.828,"color":"rgba(0,0,0,0)"},{"offset":0.85,"color":"rgba(0,0,0,0)"},{"offset":0.85,"color":"#000"},{"offset":0.864,"color":"#000"},
{"offset":0.864,"color":"rgba(0,0,0,0)"},{"offset":0.886,"color":"rgba(0,0,0,0)"},{"offset":0.886,"color":"#000"},{"offset":0.9,"color":"#000"},
{"offset":0.9,"color":"rgba(0,0,0,0)"},{"offset":0.922,"color":"rgba(0,0,0,0)"},{"offset":0.922,"color":"#000"},{"offset":0.936,"color":"#000"},
{"offset":0.936,"color":"rgba(0,0,0,0)"},{"offset":0.958,"color":"rgba(0,0,0,0)"},{"offset":0.958,"color":"#000"},{"offset":0.972,"color":"#000"},
{"offset":0.972,"color":"rgba(0,0,0,0)"},{"offset":0.994,"color":"rgba(0,0,0,0)"},{"offset":0.994,"color":"#000"},{"offset":1,"color":"#000"}
]}}},
{"transform":[{"filter":"datum.sector === 'Producers'"}],
"mark":{"type":"arc","outerRadius":221,"fill":{"gradient":"linear","x1":0,"y1":1,"x2":1.2,"y2":0.317,"stops":[
{"offset":0,"color":"rgba(0,0,0,0)"},{"offset":0.022,"color":"rgba(0,0,0,0)"},{"offset":0.022,"color":"#000"},{"offset":0.036,"color":"#000"},
{"offset":0.036,"color":"rgba(0,0,0,0)"},{"offset":0.058,"color":"rgba(0,0,0,0)"},{"offset":0.058,"color":"#000"},{"offset":0.072,"color":"#000"},
{"offset":0.072,"color":"rgba(0,0,0,0)"},{"offset":0.094,"color":"rgba(0,0,0,0)"},{"offset":0.094,"color":"#000"},{"offset":0.108,"color":"#000"},
{"offset":0.108,"color":"rgba(0,0,0,0)"},{"offset":0.13,"color":"rgba(0,0,0,0)"},{"offset":0.13,"color":"#000"},{"offset":0.144,"color":"#000"},
{"offset":0.144,"color":"rgba(0,0,0,0)"},{"offset":0.166,"color":"rgba(0,0,0,0)"},{"offset":0.166,"color":"#000"},{"offset":0.18,"color":"#000"},
{"offset":0.18,"color":"rgba(0,0,0,0)"},{"offset":0.202,"color":"rgba(0,0,0,0)"},{"offset":0.202,"color":"#000"},{"offset":0.216,"color":"#000"},
{"offset":0.216,"color":"rgba(0,0,0,0)"},{"offset":0.238,"color":"rgba(0,0,0,0)"},{"offset":0.238,"color":"#000"},{"offset":0.252,"color":"#000"},
{"offset":0.252,"color":"rgba(0,0,0,0)"},{"offset":0.274,"color":"rgba(0,0,0,0)"},{"offset":0.274,"color":"#000"},{"offset":0.288,"color":"#000"},
{"offset":0.288,"color":"rgba(0,0,0,0)"},{"offset":0.31,"color":"rgba(0,0,0,0)"},{"offset":0.31,"color":"#000"},{"offset":0.324,"color":"#000"},
{"offset":0.324,"color":"rgba(0,0,0,0)"},{"offset":0.346,"color":"rgba(0,0,0,0)"},{"offset":0.346,"color":"#000"},{"offset":0.36,"color":"#000"},
{"offset":0.36,"color":"rgba(0,0,0,0)"},{"offset":0.382,"color":"rgba(0,0,0,0)"},{"offset":0.382,"color":"#000"},{"offset":0.396,"color":"#000"},
{"offset":0.396,"color":"rgba(0,0,0,0)"},{"offset":0.418,"color":"rgba(0,0,0,0)"},{"offset":0.418,"color":"#000"},{"offset":0.432,"color":"#000"},
{"offset":0.432,"color":"rgba(0,0,0,0)"},{"offset":0.454,"color":"rgba(0,0,0,0)"},{"offset":0.454,"color":"#000"},{"offset":0.468,"color":"#000"},
{"offset":0.468,"color":"rgba(0,0,0,0)"},{"offset":0.49,"color":"rgba(0,0,0,0)"},{"offset":0.49,"color":"#000"},{"offset":0.504,"color":"#000"},
{"offset":0.504,"color":"rgba(0,0,0,0)"},{"offset":0.526,"color":"rgba(0,0,0,0)"},{"offset":0.526,"color":"#000"},{"offset":0.54,"color":"#000"},
{"offset":0.54,"color":"rgba(0,0,0,0)"},{"offset":0.562,"color":"rgba(0,0,0,0)"},{"offset":0.562,"color":"#000"},{"offset":0.576,"color":"#000"},
{"offset":0.576,"color":"rgba(0,0,0,0)"},{"offset":0.598,"color":"rgba(0,0,0,0)"},{"offset":0.598,"color":"#000"},{"offset":0.612,"color":"#000"},
{"offset":0.612,"color":"rgba(0,0,0,0)"},{"offset":0.634,"color":"rgba(0,0,0,0)"},{"offset":0.634,"color":"#000"},{"offset":0.648,"color":"#000"},
{"offset":0.648,"color":"rgba(0,0,0,0)"},{"offset":0.67,"color":"rgba(0,0,0,0)"},{"offset":0.67,"color":"#000"},{"offset":0.684,"color":"#000"},
{"offset":0.684,"color":"rgba(0,0,0,0)"},{"offset":0.706,"color":"rgba(0,0,0,0)"},{"offset":0.706,"color":"#000"},{"offset":0.72,"color":"#000"},
{"offset":0.72,"color":"rgba(0,0,0,0)"},{"offset":0.742,"color":"rgba(0,0,0,0)"},{"offset":0.742,"color":"#000"},{"offset":0.756,"color":"#000"},
{"offset":0.756,"color":"rgba(0,0,0,0)"},{"offset":0.778,"color":"rgba(0,0,0,0)"},{"offset":0.778,"color":"#000"},{"offset":0.792,"color":"#000"},
{"offset":0.792,"color":"rgba(0,0,0,0)"},{"offset":0.814,"color":"rgba(0,0,0,0)"},{"offset":0.814,"color":"#000"},{"offset":0.828,"color":"#000"},
{"offset":0.828,"color":"rgba(0,0,0,0)"},{"offset":0.85,"color":"rgba(0,0,0,0)"},{"offset":0.85,"color":"#000"},{"offset":0.864,"color":"#000"},
{"offset":0.864,"color":"rgba(0,0,0,0)"},{"offset":0.886,"color":"rgba(0,0,0,0)"},{"offset":0.886,"color":"#000"},{"offset":0.9,"color":"#000"},
{"offset":0.9,"color":"rgba(0,0,0,0)"},{"offset":0.922,"color":"rgba(0,0,0,0)"},{"offset":0.922,"color":"#000"},{"offset":0.936,"color":"#000"},
{"offset":0.936,"color":"rgba(0,0,0,0)"},{"offset":0.958,"color":"rgba(0,0,0,0)"},{"offset":0.958,"color":"#000"},{"offset":0.972,"color":"#000"},
{"offset":0.972,"color":"rgba(0,0,0,0)"},{"offset":0.994,"color":"rgba(0,0,0,0)"},{"offset":0.994,"color":"#000"},{"offset":1,"color":"#000"}
]}}},
{"transform":[{"filter":"datum.sector === 'Others'"}],
"mark":{"type":"arc","outerRadius":221,"fill":"#000"}},
{"mark":{"type":"arc","outerRadius":221,"filled":false,"stroke":"#000","strokeWidth":1.5}}
]
},
{
"data":{"values":[
{"name":"Agriculture","seq":0,"x":0.2036,"y":0.9774},{"name":"Agriculture","seq":1,"x":0.4842,"y":1.1403},{"name":"Agriculture","seq":2,"x":0.5747,"y":1.1403},
{"name":"Manufacturing","seq":0,"x":0.6244,"y":0.7828},{"name":"Manufacturing","seq":1,"x":1.4163,"y":0.7828},
{"name":"Electricity","seq":0,"x":0.8688,"y":0.4887},{"name":"Electricity","seq":1,"x":1.3122,"y":0.0226},{"name":"Electricity","seq":2,"x":1.3665,"y":0.0226},
{"name":"Wholesale","seq":0,"x":0.9864,"y":-0.1448},{"name":"Wholesale","seq":1,"x":1.0724,"y":-0.8507},{"name":"Wholesale","seq":2,"x":1.1312,"y":-0.8507},
{"name":"Services","seq":0,"x":-0.3348,"y":-0.9367},{"name":"Services","seq":1,"x":-0.3982,"y":-1.1041},{"name":"Services","seq":2,"x":-0.4525,"y":-1.1041},
{"name":"Producers","seq":0,"x":-0.9955,"y":0.1041},{"name":"Producers","seq":1,"x":-1.0271,"y":0.2172},{"name":"Producers","seq":2,"x":-1.095,"y":0.2172},
{"name":"Others","seq":0,"x":-0.5611,"y":0.8281},{"name":"Others","seq":1,"x":-0.9186,"y":1.0543},{"name":"Others","seq":2,"x":-0.9864,"y":1.0543}
]},
"mark":{"type":"line","color":"#000","strokeWidth":1.2},
"encoding":{
"x":{"field":"x","type":"quantitative","scale":{"domain":[-2.0814,2.0814],"nice":false,"zero":false},"axis":null},
"y":{"field":"y","type":"quantitative","scale":{"domain":[-1.2941,1.2941],"nice":false,"zero":false},"axis":null},
"detail":{"field":"name"},
"order":{"field":"seq","type":"quantitative"}
}
},
{
"data":{"values":[
{"name":"Agriculture","x":0.9864,"y":1.4253,"label":"Agriculture, hunting,\nforestry and fishing\nالزراعة وصيد الحيوانات\nوالحراجة وصيد الأسماك\n6.0%"},
{"name":"Manufacturing","x":1.8009,"y":0.9253,"label":"Manufacturing\nالصناعات التحويلية\n9.4%"},
{"name":"Electricity","x":1.8009,"y":0.1493,"label":"Electricity, gas and\nwater\nالكهرباء والغاز والمياه\n1.3%"},
{"name":"Wholesale","x":1.6516,"y":-0.5068,"label":"Wholesale and retail,\ntrade restaurants\nand hotels\nتجارة الجملة والتجزئة\nوالمطاعم والفنادق\n22.0%"},
{"name":"Services","x":-0.6652,"y":-0.9548,"label":"Services\nالخدمات\n33.4%"},
{"name":"Producers","x":-1.5701,"y":0.4367,"label":"Producers of\nGovernment services\nمنتجو الخدمات الحكومية\n9.2%"},
{"name":"Others","x":-1.1855,"y":1.2081,"label":"Others\nأنشطة أخرى\n18.4%"}
]},
"encoding":{
"x":{"field":"x","type":"quantitative","scale":{"domain":[-2.0814,2.0814],"nice":false,"zero":false},"axis":null},
"y":{"field":"y","type":"quantitative","scale":{"domain":[-1.2941,1.2941],"nice":false,"zero":false},"axis":null},
"text":{"field":"label"}
},
"layer":[
{"transform":[{"filter":"datum.name !== 'Manufacturing' && datum.name !== 'Electricity'"}],
"mark":{"type":"text","font":"DejaVu Sans","fontSize":19,"color":"#000","align":"center","baseline":"top","lineBreak":"\n","lineHeight":25}},
{"transform":[{"filter":"datum.name === 'Manufacturing' || datum.name === 'Electricity'"}],
"mark":{"type":"text","font":"DejaVu Sans","fontSize":19,"color":"#000","align":"center","baseline":"top","lineBreak":"\n","lineHeight":20}}
]
}
]
}
